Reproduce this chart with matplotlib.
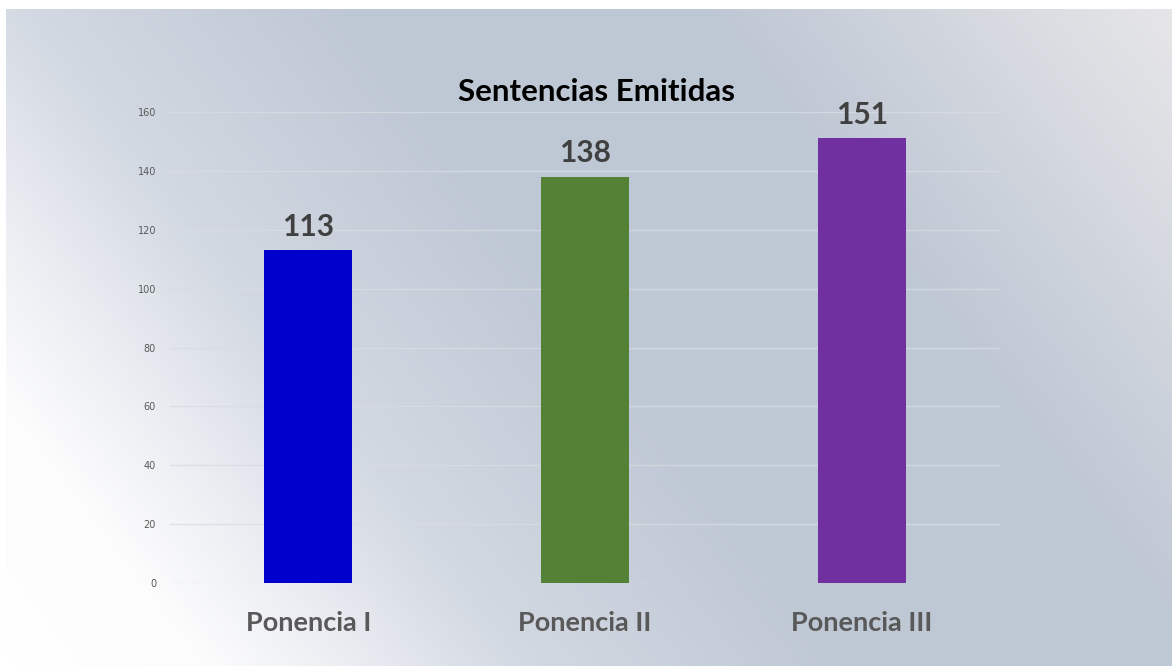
import numpy as np
import matplotlib.pyplot as plt
from matplotlib.colors import LinearSegmentedColormap

categories = ["Ponencia I", "Ponencia II", "Ponencia III"]
values = [113, 138, 151]
bar_colors = ["#0000CC", "#538135", "#7030A0"]
yticks = [0, 20, 40, 60, 80, 100, 120, 140, 160]

fig = plt.figure(figsize=(11.72, 6.66), dpi=100)
fig.patch.set_facecolor("white")

# diagonal gradient background, white border at top/left
bg = fig.add_axes([6 / 1172, 0, 1 - 6 / 1172, 1 - 9 / 666], zorder=0)
u = np.linspace(0, 1, 400)
v = np.linspace(1, 0, 240)
U, V = np.meshgrid(u, v)
s = 0.7 * U + 0.3 * V
cmap = LinearSegmentedColormap.from_list("bg", [
    (0.0, "#ffffff"), (0.12, "#fcfcfd"), (0.2, "#eceef3"), (0.31, "#d3d9e2"),
    (0.5, "#bfc8d5"), (0.72, "#bec7d4"), (1.0, "#e6e6e8")])
bg.imshow(s, cmap=cmap, aspect="auto", extent=[0, 1, 0, 1], vmin=0, vmax=1)
bg.axis("off")

ax = fig.add_axes([170 / 1172, 83 / 666, 830 / 1172, 471 / 666], zorder=1)
ax.patch.set_alpha(0)
x = np.arange(len(categories))
bars = ax.bar(x, values, width=0.318, color=bar_colors, zorder=3)
ax.set_xlim(-0.5, 2.5)
ax.set_ylim(0, 160)
ax.set_yticks(yticks)
ax.grid(axis="y", color="#d9dce2", alpha=0.8, linewidth=1, zorder=0)
for sp in ax.spines.values():
    sp.set_visible(False)
ax.tick_params(axis="both", length=0)
ax.tick_params(axis="y", labelsize=7, labelcolor="#595959", pad=10)
ax.set_xticks(x)
ax.set_xticklabels(categories, fontsize=19.5, fontweight="bold", color="#595959", family="Lato")
ax.tick_params(axis="x", pad=20)

for xi, val in zip(x, values):
    ax.annotate(str(val), (xi, val), xytext=(0, 7), textcoords="offset points",
                ha="center", va="bottom", fontsize=21.5, fontweight="bold",
                color="#404040", family="Lato")

fig.text(596 / 1172, 1 - 92 / 666, "Sentencias Emitidas", ha="center", va="center",
         fontsize=22.5, fontweight="bold", color="black", family="Lato")

fig.savefig("out.png", dpi=100)
